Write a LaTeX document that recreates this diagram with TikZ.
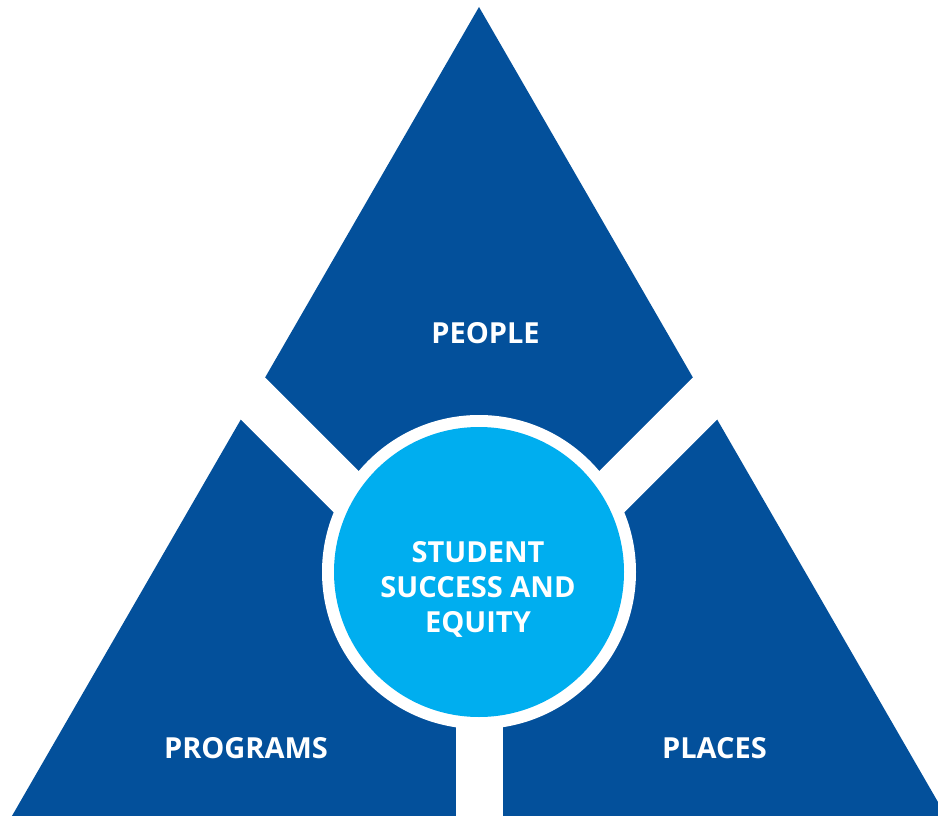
\documentclass[tikz,border=0pt]{standalone}
\usepackage{fontspec}
\setmainfont{Open Sans}
\definecolor{darkblue}{RGB}{3,80,155}
\definecolor{lightblue}{RGB}{0,174,239}
\begin{document}
\begin{tikzpicture}[x=1pt,y=-1pt,
  label/.style={text=white,font=\fontsize{29}{35}\selectfont\bfseries,align=center,inner sep=0pt},
  gap/.style={white,line width=47pt,line cap=butt}]
\useasboundingbox (0,0) rectangle (938,816);
\clip (0,0) rectangle (938,816);
\coordinate (apex) at (479,7);
\coordinate (bl) at (-55.6,933);
\coordinate (br) at (1013.6,933);
\coordinate (p) at (479,624.5);
\coordinate (c) at (479,572);
\fill[darkblue] (apex) -- (bl) -- (br) -- cycle;
\draw[gap] (p) -- ++(-320,-320);
\draw[gap] (p) -- ++(320,-320);
\draw[gap] (p) -- ++(0,320);
\fill[white] (c) circle (157);
\fill[lightblue] (c) circle (145);
\node[label] (people) at (485.5,333) {PEOPLE};
\node[label] (programs) at (246,748) {PROGRAMS};
\node[label] (places) at (714.5,748) {PLACES};
\node[label] (centre) at (478,589.5) {STUDENT\\SUCCESS AND\\EQUITY};
\end{tikzpicture}
\end{document}
